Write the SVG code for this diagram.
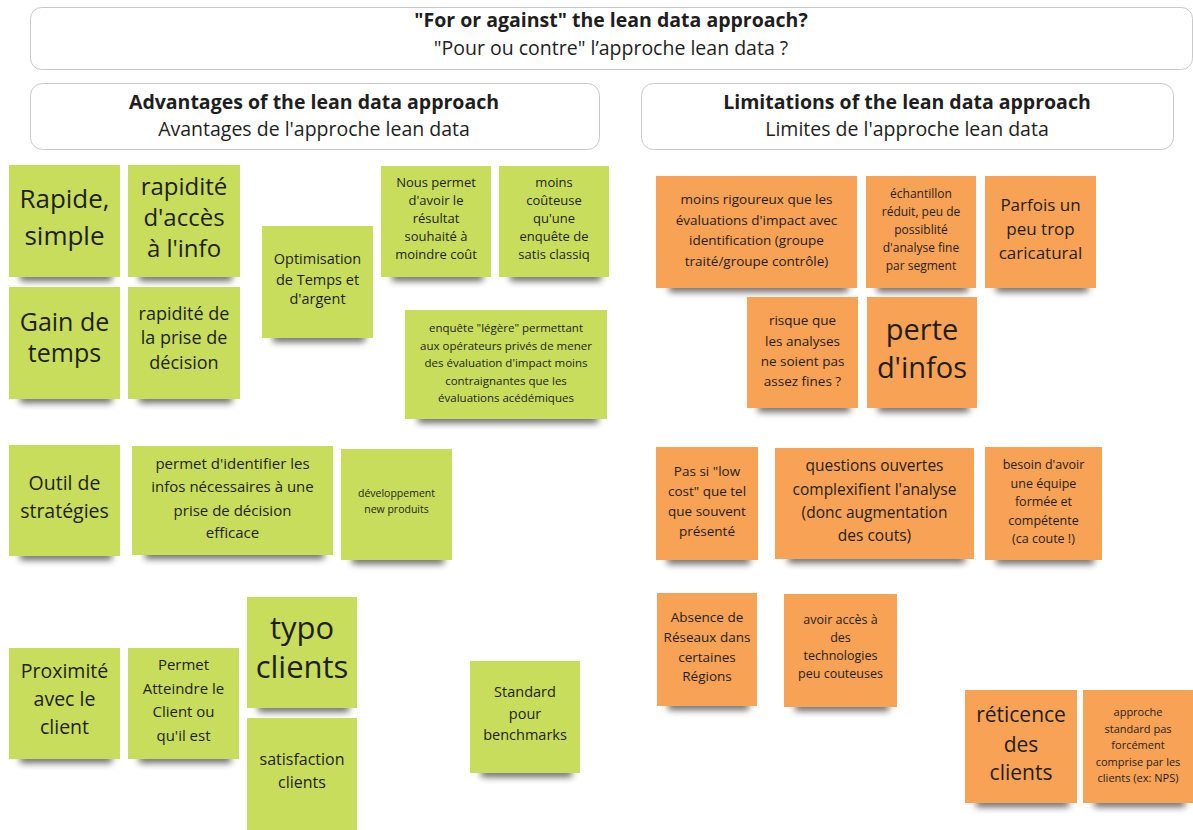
<svg xmlns="http://www.w3.org/2000/svg" width="1193" height="830" viewBox="0 0 1193 830">
  <defs>
    <filter id="soft" x="-20%" y="-150%" width="140%" height="400%">
      <feGaussianBlur stdDeviation="3.5"/>
    </filter>
    <style>
      .frame { fill: #ffffff; stroke: #c9c9c9; stroke-width: 1; }
      .h { font-family: "Open Sans", "Noto Sans", sans-serif; font-size: 19.5px; fill: #1e1e1e; text-anchor: middle; }
      .hb { font-weight: 700; }
      .shadow { fill: #000; opacity: 0.6; filter: url(#soft); }
      .green { fill: #c8dd5c; }
      .orange { fill: #f8a256; }
      .t { font-family: "Open Sans", "Noto Sans", sans-serif; fill: #1f1f1f; text-anchor: middle; }
    </style>
  </defs>

  <rect width="1193" height="830" fill="#ffffff"/>

  <!-- headers -->
  <g id="title">
    <rect class="frame" x="30.5" y="7.5" width="1162" height="62" rx="11"/>
    <text class="h hb" x="611" y="27" font-size="18.7">"For or against" the lean data approach?</text>
    <text class="h" x="611" y="55" font-size="18.7">"Pour ou contre" l’approche lean data ?</text>
  </g>
  <g id="advantages-header">
    <rect class="frame" x="30.5" y="83.5" width="569" height="66" rx="12"/>
    <text class="h hb" x="314" y="109">Advantages of the lean data approach</text>
    <text class="h" x="314" y="136">Avantages de l'approche lean data</text>
  </g>
  <g id="limitations-header">
    <rect class="frame" x="641.5" y="83.5" width="532" height="66" rx="12"/>
    <text class="h hb" x="907" y="109">Limitations of the lean data approach</text>
    <text class="h" x="907" y="136">Limites de l'approche lean data</text>
  </g>

  <!-- connectors: none drawn between the notes -->
  <g id="connectors"/>

  <!-- advantages (green notes) -->
  <g id="g-rapide">
    <rect class="shadow" x="20" y="272" width="92" height="9"/>
    <rect class="green" x="9" y="165" width="111" height="112"/>
    <text class="t" font-size="26"><tspan x="64.5" y="208">Rapide,</tspan><tspan x="64.5" y="245">simple</tspan></text>
  </g>
  <g id="g-acces">
    <rect class="shadow" x="139" y="272" width="93" height="9"/>
    <rect class="green" x="128" y="165" width="112" height="112"/>
    <text class="t" font-size="24"><tspan x="184" y="195">rapidité</tspan><tspan x="184" y="226">d'accès</tspan><tspan x="184" y="257">à l'info</tspan></text>
  </g>
  <g id="g-gain">
    <rect class="shadow" x="20" y="394" width="92" height="9"/>
    <rect class="green" x="9" y="287" width="111" height="112"/>
    <text class="t" font-size="25"><tspan x="64.5" y="331">Gain de</tspan><tspan x="64.5" y="362">temps</tspan></text>
  </g>
  <g id="g-decision">
    <rect class="shadow" x="139" y="394" width="93" height="9"/>
    <rect class="green" x="128" y="287" width="112" height="112"/>
    <text class="t" font-size="18"><tspan x="184" y="320">rapidité de</tspan><tspan x="184" y="344">la prise de</tspan><tspan x="184" y="369">décision</tspan></text>
  </g>
  <g id="g-optimisation">
    <rect class="shadow" x="273" y="333" width="92" height="9"/>
    <rect class="green" x="262" y="226" width="111" height="112"/>
    <text class="t" font-size="14.5"><tspan x="317.5" y="264">Optimisation</tspan><tspan x="317.5" y="285">de Temps et</tspan><tspan x="317.5" y="304">d'argent</tspan></text>
  </g>
  <g id="g-resultat">
    <rect class="shadow" x="392" y="272" width="91" height="9"/>
    <rect class="green" x="381" y="166" width="110" height="111"/>
    <text class="t" font-size="13"><tspan x="436" y="187">Nous permet</tspan><tspan x="436" y="205">d'avoir le</tspan><tspan x="436" y="223">résultat</tspan><tspan x="436" y="241">souhaité à</tspan><tspan x="436" y="259">moindre coût</tspan></text>
  </g>
  <g id="g-couteuse">
    <rect class="shadow" x="510" y="272" width="91" height="9"/>
    <rect class="green" x="499" y="166" width="110" height="111"/>
    <text class="t" font-size="13"><tspan x="554" y="187">moins</tspan><tspan x="554" y="205">coûteuse</tspan><tspan x="554" y="223">qu'une</tspan><tspan x="554" y="241">enquête de</tspan><tspan x="554" y="259">satis classiq</tspan></text>
  </g>
  <g id="g-legere">
    <rect class="shadow" x="418" y="414" width="180" height="9"/>
    <rect class="green" x="405" y="310" width="202" height="109"/>
    <text class="t" font-size="11.5"><tspan x="506" y="332">enquête "légère" permettant</tspan><tspan x="506" y="349.5">aux opérateurs privés de mener</tspan><tspan x="506" y="367">des évaluation d'impact moins</tspan><tspan x="506" y="384.5">contraignantes que les</tspan><tspan x="506" y="402">évaluations acédémiques</tspan></text>
  </g>
  <g id="g-outil">
    <rect class="shadow" x="20" y="551" width="92" height="9"/>
    <rect class="green" x="9" y="445" width="111" height="111"/>
    <text class="t" font-size="19.5"><tspan x="64.5" y="490">Outil de</tspan><tspan x="64.5" y="518">stratégies</tspan></text>
  </g>
  <g id="g-identifier">
    <rect class="shadow" x="145" y="550" width="179" height="9"/>
    <rect class="green" x="132" y="446" width="201" height="109"/>
    <text class="t" font-size="15"><tspan x="232.5" y="469">permet d'identifier les</tspan><tspan x="232.5" y="492">infos nécessaires à une</tspan><tspan x="232.5" y="516">prise de décision</tspan><tspan x="232.5" y="538">efficace</tspan></text>
  </g>
  <g id="g-developpement">
    <rect class="shadow" x="352" y="555" width="92" height="9"/>
    <rect class="green" x="341" y="449" width="111" height="111"/>
    <text class="t" font-size="10.5"><tspan x="396.5" y="496.5">développement</tspan><tspan x="396.5" y="512.5">new produits</tspan></text>
  </g>
  <g id="g-proximite">
    <rect class="shadow" x="20" y="754" width="92" height="9"/>
    <rect class="green" x="9" y="648" width="111" height="111"/>
    <text class="t" font-size="19.5"><tspan x="64.5" y="678">Proximité</tspan><tspan x="64.5" y="706">avec le</tspan><tspan x="64.5" y="734">client</tspan></text>
  </g>
  <g id="g-atteindre">
    <rect class="shadow" x="139" y="754" width="92" height="9"/>
    <rect class="green" x="128" y="648" width="111" height="111"/>
    <text class="t" font-size="15"><tspan x="183.5" y="670">Permet</tspan><tspan x="183.5" y="694">Atteindre le</tspan><tspan x="183.5" y="717">Client ou</tspan><tspan x="183.5" y="741">qu'il est</tspan></text>
  </g>
  <g id="g-typo">
    <rect class="shadow" x="258" y="703" width="91" height="9"/>
    <rect class="green" x="247" y="597" width="110" height="111"/>
    <text class="t" font-size="31"><tspan x="302" y="639">typo</tspan><tspan x="302" y="678">clients</tspan></text>
  </g>
  <g id="g-satisfaction">
    <rect class="green" x="247" y="718" width="110" height="112"/>
    <text class="t" font-size="16"><tspan x="302" y="765">satisfaction</tspan><tspan x="302" y="788">clients</tspan></text>
  </g>
  <g id="g-standard">
    <rect class="shadow" x="481" y="768" width="91" height="9"/>
    <rect class="green" x="470" y="661" width="110" height="112"/>
    <text class="t" font-size="14.5"><tspan x="525" y="697">Standard</tspan><tspan x="525" y="719">pour</tspan><tspan x="525" y="740">benchmarks</tspan></text>
  </g>

  <!-- limitations (orange notes) -->
  <g id="o-rigoureux">
    <rect class="shadow" x="669" y="283" width="179" height="9"/>
    <rect class="orange" x="656" y="176" width="201" height="112"/>
    <text class="t" font-size="13.5"><tspan x="756.5" y="204">moins rigoureux que les</tspan><tspan x="756.5" y="224.5">évaluations d'impact avec</tspan><tspan x="756.5" y="245">identification (groupe</tspan><tspan x="756.5" y="265.5">traité/groupe contrôle)</tspan></text>
  </g>
  <g id="o-echantillon">
    <rect class="shadow" x="877" y="283" width="91" height="9"/>
    <rect class="orange" x="866" y="176" width="110" height="112"/>
    <text class="t" font-size="12"><tspan x="921" y="198">échantillon</tspan><tspan x="921" y="216">réduit, peu de</tspan><tspan x="921" y="234">possiblité</tspan><tspan x="921" y="252">d'analyse fine</tspan><tspan x="921" y="270">par segment</tspan></text>
  </g>
  <g id="o-caricatural">
    <rect class="shadow" x="996" y="283" width="92" height="9"/>
    <rect class="orange" x="985" y="176" width="111" height="112"/>
    <text class="t" font-size="17"><tspan x="1040.5" y="210.5">Parfois un</tspan><tspan x="1040.5" y="234.5">peu trop</tspan><tspan x="1040.5" y="258.5">caricatural</tspan></text>
  </g>
  <g id="o-risque">
    <rect class="shadow" x="758" y="403" width="92" height="9"/>
    <rect class="orange" x="747" y="297" width="111" height="111"/>
    <text class="t" font-size="13.5"><tspan x="802.5" y="324.5">risque que</tspan><tspan x="802.5" y="345.5">les analyses</tspan><tspan x="802.5" y="365.5">ne soient pas</tspan><tspan x="802.5" y="385.5">assez fines ?</tspan></text>
  </g>
  <g id="o-perte">
    <rect class="shadow" x="878" y="403" width="91" height="9"/>
    <rect class="orange" x="867" y="297" width="110" height="111"/>
    <text class="t" font-size="29"><tspan x="922" y="339.5">perte</tspan><tspan x="922" y="377.5">d'infos</tspan></text>
  </g>
  <g id="o-lowcost">
    <rect class="shadow" x="667" y="555" width="83" height="9"/>
    <rect class="orange" x="656" y="447" width="102" height="113"/>
    <text class="t" font-size="13.5"><tspan x="707" y="475.5">Pas si "low</tspan><tspan x="707" y="496">cost" que tel</tspan><tspan x="707" y="515.5">que souvent</tspan><tspan x="707" y="535.5">présenté</tspan></text>
  </g>
  <g id="o-questions">
    <rect class="shadow" x="788" y="554" width="177" height="9"/>
    <rect class="orange" x="775" y="448" width="199" height="111"/>
    <text class="t" font-size="15.5"><tspan x="874.5" y="471">questions ouvertes</tspan><tspan x="874.5" y="494.5">complexifient l'analyse</tspan><tspan x="874.5" y="518">(donc augmentation</tspan><tspan x="874.5" y="541">des couts)</tspan></text>
  </g>
  <g id="o-equipe">
    <rect class="shadow" x="996" y="555" width="98" height="9"/>
    <rect class="orange" x="985" y="447" width="117" height="113"/>
    <text class="t" font-size="12.5"><tspan x="1043.5" y="469">besoin d'avoir</tspan><tspan x="1043.5" y="488">une équipe</tspan><tspan x="1043.5" y="506">formée et</tspan><tspan x="1043.5" y="524.5">compétente</tspan><tspan x="1043.5" y="543">(ca coute !)</tspan></text>
  </g>
  <g id="o-reseaux">
    <rect class="shadow" x="668" y="701" width="81" height="9"/>
    <rect class="orange" x="657" y="593" width="100" height="113"/>
    <text class="t" font-size="13.5"><tspan x="707" y="621.5">Absence de</tspan><tspan x="707" y="641.5">Réseaux dans</tspan><tspan x="707" y="661.5">certaines</tspan><tspan x="707" y="680.5">Régions</tspan></text>
  </g>
  <g id="o-technologies">
    <rect class="shadow" x="795" y="702" width="94" height="9"/>
    <rect class="orange" x="784" y="594" width="113" height="113"/>
    <text class="t" font-size="12.5"><tspan x="840.5" y="624">avoir accès à</tspan><tspan x="840.5" y="642">des</tspan><tspan x="840.5" y="660">technologies</tspan><tspan x="840.5" y="678">peu couteuses</tspan></text>
  </g>
  <g id="o-reticence">
    <rect class="shadow" x="976" y="798" width="93" height="9"/>
    <rect class="orange" x="965" y="690" width="112" height="113"/>
    <text class="t" font-size="21"><tspan x="1021" y="722">réticence</tspan><tspan x="1021" y="752">des</tspan><tspan x="1021" y="780">clients</tspan></text>
  </g>
  <g id="o-nps">
    <rect class="shadow" x="1094" y="798" width="91" height="9"/>
    <rect class="orange" x="1083" y="690" width="110" height="113"/>
    <text class="t" font-size="11"><tspan x="1138" y="715.5">approche</tspan><tspan x="1138" y="732.5">standard pas</tspan><tspan x="1138" y="748.5">forcément</tspan><tspan x="1138" y="765.5">comprise par les</tspan><tspan x="1138" y="781.5">clients (ex: NPS)</tspan></text>
  </g>
</svg>
